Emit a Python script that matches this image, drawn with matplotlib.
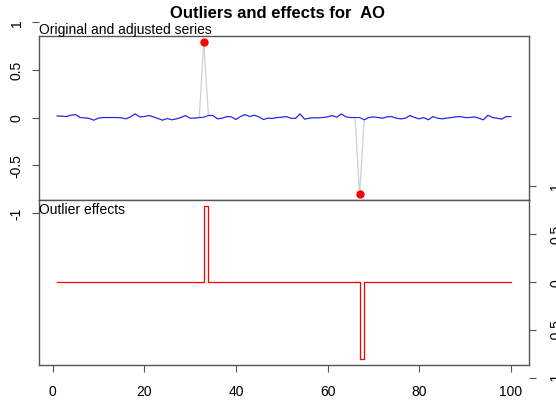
import numpy as np
import matplotlib.pyplot as plt

plt.rcParams['font.family'] = ['Liberation Sans', 'DejaVu Sans']

# adjusted series, t = 1..100
adjusted = [0.017, 0.014, 0.010, 0.024, 0.031, 0.0, -0.003, -0.010, -0.028, -0.007,
            0.0, 0.0, 0.0, 0.0, -0.003, -0.014, 0.007, 0.038, 0.007, 0.010,
            0.021, 0.007, -0.010, -0.028, -0.010, -0.024, -0.014, 0.0, 0.021, -0.007,
            -0.007, 0.0, 0.003, 0.021, 0.021, -0.014, -0.007, 0.010, 0.007, -0.021,
            0.010, 0.031, 0.010, 0.024, 0.007, -0.021, -0.007, -0.010, 0.0, 0.003,
            0.010, -0.007, -0.010, 0.038, -0.017, -0.007, -0.003, -0.003, 0.0, 0.007,
            0.021, 0.003, 0.038, 0.007, 0.0, 0.0, 0.0, -0.024, 0.0, 0.007,
            0.0, -0.007, 0.007, 0.010, -0.007, -0.014, -0.007, 0.021, 0.0, -0.014,
            0.0, -0.024, 0.010, -0.007, -0.014, -0.007, 0.0, 0.007, 0.010, 0.0,
            0.0, 0.007, -0.007, -0.024, 0.024, 0.0, -0.007, -0.017, 0.010, 0.010]
outlier_time = [33, 67]
outlier_value = [0.79, -0.80]
title = "Outliers and effects for  AO"

t = np.arange(1, len(adjusted) + 1)
adjusted = np.array(adjusted)
original = adjusted.copy()
for ti, v in zip(outlier_time, outlier_value):
    original[ti - 1] = v
effects = original - adjusted

W, H = 556, 406
fig = plt.figure(figsize=(W / 100, H / 100), dpi=100)
L, R = 39 / W, 529 / W
ax1 = fig.add_axes([L, 1 - 201 / H, R - L, (201 - 37) / H])
ax2 = fig.add_axes([L, 1 - 366 / H, R - L, (366 - 201) / H])


def r_lim(v):
    lo, hi = np.min(v), np.max(v)
    d = (hi - lo) * 0.04
    return lo - d, hi + d


xlim = r_lim(t)
box = '#555555'

# top panel: original (grey), adjusted (blue), outliers (red)
ax1.plot(t, original, color='#d0d0d0', lw=0.9)
ax1.plot(t, adjusted, color='#2020ff', lw=0.8)
ax1.plot(outlier_time, outlier_value, 'o', color='red', ms=5)
ax1.set_xlim(xlim)
ax1.set_ylim(r_lim(original))
ax1.set_xticks([])
ax1.set_yticks([])
ax1.text(0, 1, 'Original and adjusted series', transform=ax1.transAxes,
         ha='left', va='bottom', fontsize=10)

# bottom panel: effects as step
ax2.step(t, effects, where='post', color='red', lw=0.9)
ax2.set_xlim(xlim)
ax2.set_ylim(r_lim(effects))
ax2.set_yticks([])
ax2.set_xticks([0, 20, 40, 60, 80, 100])
ax2.tick_params(axis='x', length=5, width=0.8, color=box, labelsize=10, pad=9)
ax2.text(0, 0.99, 'Outlier effects', transform=ax2.transAxes,
         ha='left', va='top', fontsize=10)

for a in (ax1, ax2):
    for s in a.spines.values():
        s.set_color(box)
        s.set_linewidth(1.0)


# y axes running from -1 to 1, drawn beyond the panel boxes
def side_axis(ax, side):
    y0, y1 = ax.get_ylim()
    pos = ax.get_position()
    per = pos.height / (y1 - y0)
    a = fig.add_axes([pos.x0, pos.y0 + (-1 - y0) * per, pos.width, 2 * per])
    a.set_ylim(-1, 1)
    a.patch.set_visible(False)
    for s in a.spines.values():
        s.set_visible(False)
    a.set_xticks([])
    a.set_yticks([-1, -0.5, 0, 0.5, 1])
    a.set_yticklabels(['-1', '-0.5', '0', '0.5', '1'])
    if side == 'right':
        a.yaxis.tick_right()
        a.tick_params(axis='y', pad=9.5)
    else:
        a.tick_params(axis='y', pad=6)
    a.tick_params(axis='y', length=5, width=0.8, color=box, labelsize=10,
                  labelrotation=90)
    for lab in a.get_yticklabels():
        lab.set_va('center')
    return a


side_axis(ax1, 'left')
side_axis(ax2, 'right')

fig.text(0.5, 1 - 13 / H, title, ha='center', va='center',
         fontsize=12, fontweight='bold')

fig.savefig('out.png', dpi=100)
